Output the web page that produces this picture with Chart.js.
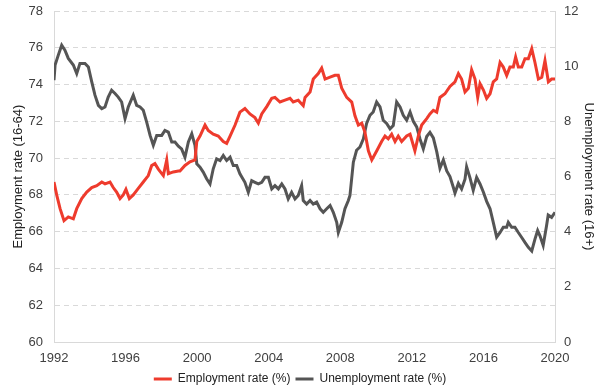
<!DOCTYPE html>
<html>
<head>
<meta charset="utf-8">
<script src="https://cdn.jsdelivr.net/npm/chart.js@4.4.1/dist/chart.umd.min.js"></script>
<style>
  html, body { margin: 0; padding: 0; background: #fff; }
  #wrap { width: 600px; height: 392px; }
</style>
</head>
<body>
<div id="wrap"><canvas id="labourChart" width="600" height="392"></canvas></div>
<script>
// employment rate (16-64)
const empYears = [
  1992.00, 1992.15, 1992.34, 1992.56, 1992.80, 1993.08, 1993.27, 1993.55, 1993.83, 1994.11,
  1994.39, 1994.67, 1994.85, 1995.13, 1995.31, 1995.50, 1995.69, 1995.87, 1996.02, 1996.21,
  1996.43, 1996.71, 1996.99, 1997.27, 1997.46, 1997.64, 1997.83, 1998.11, 1998.30, 1998.39,
  1998.67, 1998.95, 1999.04, 1999.32, 1999.60, 1999.88, 1999.98, 2000.16, 2000.44, 2000.62,
  2000.90, 2001.18, 2001.46, 2001.65, 2001.84, 2002.12, 2002.39, 2002.67, 2002.95, 2003.23,
  2003.42, 2003.61, 2003.89, 2004.17, 2004.35, 2004.63, 2004.91, 2005.19, 2005.37, 2005.65,
  2005.93, 2006.03, 2006.31, 2006.49, 2006.77, 2006.96, 2007.15, 2007.43, 2007.70, 2007.89,
  2008.08, 2008.36, 2008.64, 2008.82, 2009.01, 2009.20, 2009.38, 2009.57, 2009.76, 2010.04,
  2010.31, 2010.50, 2010.68, 2010.87, 2011.06, 2011.24, 2011.43, 2011.71, 2011.90, 2012.17,
  2012.36, 2012.55, 2012.83, 2013.01, 2013.20, 2013.39, 2013.57, 2013.85, 2014.13, 2014.41,
  2014.60, 2014.78, 2014.97, 2015.16, 2015.34, 2015.53, 2015.68, 2015.81, 2016.00, 2016.18,
  2016.37, 2016.55, 2016.74, 2016.93, 2017.11, 2017.30, 2017.48, 2017.67, 2017.80, 2017.95,
  2018.14, 2018.32, 2018.51, 2018.70, 2018.88, 2019.07, 2019.26, 2019.44, 2019.63, 2019.81,
  2020.00
];
const empRate = [
  68.7, 68.0, 67.25, 66.6, 66.8, 66.7, 67.25, 67.8, 68.15, 68.4,
  68.5, 68.7, 68.6, 68.7, 68.4, 68.15, 67.8, 68.0, 68.3, 67.8,
  68.0, 68.35, 68.7, 69.05, 69.6, 69.7, 69.4, 69.05, 69.9, 69.15,
  69.25, 69.3, 69.3, 69.6, 69.8, 69.9, 70.9, 71.2, 71.8, 71.5,
  71.3, 71.2, 70.9, 70.8, 71.2, 71.8, 72.5, 72.7, 72.4, 72.2,
  71.9, 72.4, 72.8, 73.25, 73.3, 73.05, 73.15, 73.25, 73.05, 73.15,
  72.85, 73.3, 73.6, 74.3, 74.6, 74.9, 74.3, 74.4, 74.5, 74.5,
  73.8, 73.3, 73.05, 72.3, 71.8, 71.9, 71.4, 70.4, 69.9, 70.4,
  70.9, 71.2, 71.05, 71.3, 70.9, 71.2, 70.9, 71.2, 71.3, 70.4,
  71.2, 71.8, 72.15, 72.4, 72.6, 72.5, 73.3, 73.5, 73.9, 74.15,
  74.6, 74.3, 73.6, 73.8, 74.8, 74.3, 73.3, 74.05, 73.7, 73.25,
  73.5, 74.15, 74.3, 75.2, 74.95, 74.5, 74.95, 74.95, 75.5, 74.95,
  74.95, 75.4, 75.4, 75.95, 75.2, 74.3, 74.4, 75.3, 74.15, 74.3,
  74.3
];

// unemployment rate (16+)
const unempYears = [
  1992.00, 1992.06, 1992.24, 1992.43, 1992.61, 1992.80, 1993.08, 1993.27, 1993.45, 1993.73,
  1993.92, 1994.11, 1994.29, 1994.48, 1994.67, 1994.85, 1995.03, 1995.22, 1995.41, 1995.59,
  1995.78, 1995.97, 1996.15, 1996.43, 1996.62, 1996.81, 1996.99, 1997.18, 1997.37, 1997.55,
  1997.74, 1998.02, 1998.20, 1998.39, 1998.58, 1998.76, 1998.95, 1999.13, 1999.32, 1999.51,
  1999.70, 1999.88, 1999.98, 2000.16, 2000.34, 2000.53, 2000.72, 2000.90, 2001.09, 2001.28,
  2001.46, 2001.65, 2001.84, 2002.02, 2002.21, 2002.39, 2002.67, 2002.86, 2003.05, 2003.23,
  2003.42, 2003.61, 2003.79, 2003.98, 2004.17, 2004.35, 2004.54, 2004.73, 2004.91, 2005.09,
  2005.28, 2005.47, 2005.65, 2005.84, 2005.93, 2006.12, 2006.31, 2006.49, 2006.68, 2006.87,
  2007.05, 2007.24, 2007.43, 2007.61, 2007.80, 2007.89, 2008.08, 2008.26, 2008.45, 2008.54,
  2008.73, 2008.91, 2009.10, 2009.29, 2009.47, 2009.66, 2009.84, 2010.03, 2010.22, 2010.40,
  2010.59, 2010.78, 2010.96, 2011.15, 2011.34, 2011.52, 2011.71, 2011.90, 2012.08, 2012.27,
  2012.46, 2012.64, 2012.83, 2013.01, 2013.20, 2013.39, 2013.57, 2013.76, 2013.95, 2014.13,
  2014.32, 2014.41, 2014.60, 2014.78, 2014.97, 2015.06, 2015.25, 2015.43, 2015.62, 2015.81,
  2016.00, 2016.18, 2016.37, 2016.55, 2016.74, 2016.93, 2017.11, 2017.30, 2017.39, 2017.58,
  2017.76, 2017.95, 2018.14, 2018.32, 2018.51, 2018.70, 2018.88, 2019.03, 2019.16, 2019.34,
  2019.53, 2019.62, 2019.81, 2020.00
];
const unempRate = [
  9.49, 10.04, 10.4, 10.76, 10.58, 10.28, 10.04, 9.73, 10.1, 10.1,
  9.97, 9.43, 8.95, 8.58, 8.46, 8.52, 8.88, 9.13, 9.01, 8.88,
  8.7, 8.1, 8.52, 8.95, 8.58, 8.52, 8.4, 7.97, 7.49, 7.13,
  7.49, 7.49, 7.67, 7.61, 7.25, 7.25, 7.1, 7.0, 6.7, 7.25,
  7.55, 7.13, 6.46, 6.34, 6.16, 5.92, 5.73, 6.28, 6.64, 6.58,
  6.76, 6.58, 6.7, 6.4, 6.4, 6.1, 5.79, 5.43, 5.85, 5.79,
  5.73, 5.79, 5.97, 5.97, 5.55, 5.67, 5.55, 5.73, 5.55, 5.19,
  5.43, 5.19, 5.31, 5.67, 5.13, 5.0, 5.13, 5.0, 5.07, 4.83,
  4.7, 4.83, 4.95, 4.7, 4.34, 3.97, 4.34, 4.83, 5.13, 5.31,
  6.52, 6.95, 7.07, 7.37, 7.92, 8.22, 8.34, 8.7, 8.52, 8.04,
  7.92, 7.73, 7.85, 8.7, 8.52, 8.22, 8.04, 8.34, 8.0, 7.8,
  7.35, 7.0, 7.45, 7.6, 7.4, 6.9, 6.3, 6.6, 6.2, 6.0,
  5.6, 5.4, 5.75, 5.55, 5.9, 6.35, 5.95, 5.5, 5.97, 5.73,
  5.43, 5.1, 4.83, 4.34, 3.8, 3.97, 4.16, 4.16, 4.34, 4.16,
  4.16, 3.97, 3.79, 3.61, 3.43, 3.3, 3.73, 4.04, 3.85, 3.5,
  4.22, 4.6, 4.52, 4.7
];

const seriesNames = ['Employment rate (%)', 'Unemployment rate (%)'];
const leftTitle = 'Employment rate (16-64)';
const rightTitle = 'Unemployment rate (16+)';

const toPoints = (xs, ys) => xs.map((x, i) => ({ x: x, y: ys[i] }));

const tickFont = { family: 'Liberation Sans, Arial, sans-serif', size: 13 };
const tickColor = '#404040';
const lineGrey = '#d9d9d9';

// pin the side axes so the plot area sits where the original has it
function fixSideAxis(width) {
  return s => {
    s.width = width;
    s.paddingTop = 0;
    s.paddingBottom = 0;
  };
}

new Chart(document.getElementById('labourChart'), {
  type: 'line',
  data: {
    datasets: [
      {
        label: seriesNames[0],
        data: toPoints(empYears, empRate),
        yAxisID: 'y',
        borderColor: '#ee3b2d',
        backgroundColor: '#ee3b2d',
        borderWidth: 3,
        pointRadius: 0,
        tension: 0
      },
      {
        label: seriesNames[1],
        data: toPoints(unempYears, unempRate),
        yAxisID: 'y2',
        borderColor: '#555555',
        backgroundColor: '#555555',
        borderWidth: 3,
        pointRadius: 0,
        tension: 0
      }
    ]
  },
  options: {
    responsive: false,
    animation: false,
    devicePixelRatio: 1,
    layout: { padding: { left: 0, right: 0, top: 11, bottom: -3 } },
    plugins: {
      tooltip: { enabled: false },
      legend: {
        position: 'bottom',
        labels: {
          usePointStyle: true,
          pointStyle: 'line',
          pointStyleWidth: 18,
          padding: 5,
          color: '#222',
          font: { family: 'Liberation Sans, Arial, sans-serif', size: 12 }
        }
      }
    },
    scales: {
      x: {
        type: 'linear',
        min: 1992,
        max: 2020,
        ticks: {
          stepSize: 4,
          padding: 9,
          color: tickColor,
          font: tickFont,
          callback: v => String(v)
        },
        grid: { display: false, drawTicks: false },
        border: { display: true, color: lineGrey, width: 1 },
        afterFit: s => { s.height = 26; }
      },
      y: {
        position: 'left',
        min: 60,
        max: 78,
        ticks: { stepSize: 2, padding: 11, color: tickColor, font: tickFont },
        grid: { color: lineGrey, drawTicks: false },
        border: { display: true, color: lineGrey, dash: [5, 4] },
        title: {
          display: true,
          text: leftTitle,
          color: '#222',
          font: tickFont,
          padding: { top: 11, bottom: 4 }
        },
        afterFit: fixSideAxis(54)
      },
      y2: {
        position: 'right',
        min: 0,
        max: 12,
        ticks: { stepSize: 2, padding: 9, color: tickColor, font: tickFont },
        grid: { display: false, drawTicks: false },
        border: { display: true, color: lineGrey },
        title: {
          display: true,
          text: rightTitle,
          color: '#222',
          font: tickFont,
          padding: { top: 4, bottom: 4 }
        },
        afterFit: fixSideAxis(45)
      }
    }
  }
});
</script>
</body>
</html>
